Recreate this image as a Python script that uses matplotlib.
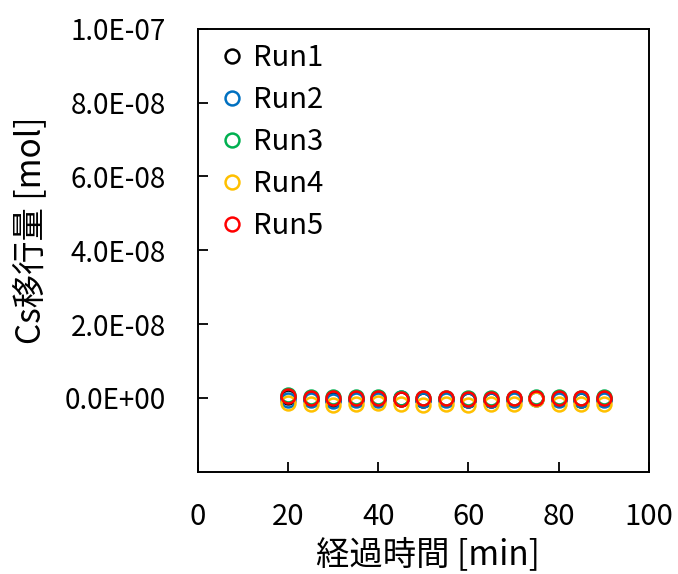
import matplotlib.pyplot as plt
import numpy as np

plt.rcParams['font.family'] = ['Noto Sans CJK JP', 'DejaVu Sans']

time_min = [20, 25, 30, 35, 40, 45, 50, 55, 60, 65, 70, 75, 80, 85, 90]
run1 = [0.2, -0.4, -0.5, -0.4, -0.3, -0.4, -0.5, -0.4, -0.5, -0.5, -0.4, -0.1, -0.4, -0.5, -0.4]
run2 = [-0.6, -0.6, -0.7, -0.6, -0.5, 0.1, -0.6, -0.5, -0.6, -0.6, -0.5, -0.2, -0.6, -0.6, -0.5]
run3 = [0.9, 0.3, 0.2, 0.3, 0.2, 0.1, 0.0, 0.1, 0.0, 0.0, 0.1, 0.3, 0.3, 0.1, 0.3]
run4 = [-1.4, -1.6, -1.8, -1.7, -1.4, -1.5, -1.8, -1.7, -1.8, -1.6, -1.6, -0.4, -1.6, -1.7, -1.5]
run5 = [0.5, 0.0, -0.1, 0.0, 0.0, -0.2, -0.1, 0.0, -0.2, -0.2, 0.0, 0.1, 0.0, -0.1, 0.0]
runs = [run1, run2, run3, run4, run5]
labels = ['Run1', 'Run2', 'Run3', 'Run4', 'Run5']
colors = ['#000000', '#0070C0', '#00B050', '#FFC000', '#FF0000']

fig = plt.figure(figsize=(6.78, 5.74), dpi=100)
ax = fig.add_axes([0.292, 0.178, 0.665, 0.772])

for vals, lab, c in zip(runs, labels, colors):
    ax.plot(time_min, np.array(vals) * 1e-9, 'o', mfc='none', mec=c,
            mew=1.8, ms=10, label=lab)

ax.set_xlim(0, 100)
ax.set_ylim(-2e-8, 1e-7)
ax.set_xticks([0, 20, 40, 60, 80, 100])
yt = [0, 2e-8, 4e-8, 6e-8, 8e-8, 1e-7]
ax.set_yticks(yt)
ax.set_yticklabels(['0.0E+00', '2.0E-08', '4.0E-08', '6.0E-08', '8.0E-08', '1.0E-07'])
ax.tick_params(labelsize=21, length=7, direction='in', width=1.3)
ax.tick_params(axis='y', labelsize=20, pad=23)
ax.tick_params(axis='x', pad=22)
for s in ax.spines.values():
    s.set_linewidth(1.4)

ax.set_xlabel('経過時間 [min]', fontsize=24, va='center')
ax.xaxis.set_label_coords(0.51, -0.187)
ax.set_ylabel('Cs移行量 [mol]', fontsize=24, va='center', ha='center')
ax.yaxis.set_label_coords(-0.372, 0.546)

ax.legend(loc='upper left', frameon=False, fontsize=21, handletextpad=0.1,
          labelspacing=0.41, borderaxespad=0.45, handlelength=1.3,
          borderpad=0.05)

fig.savefig('out.png', dpi=100)
